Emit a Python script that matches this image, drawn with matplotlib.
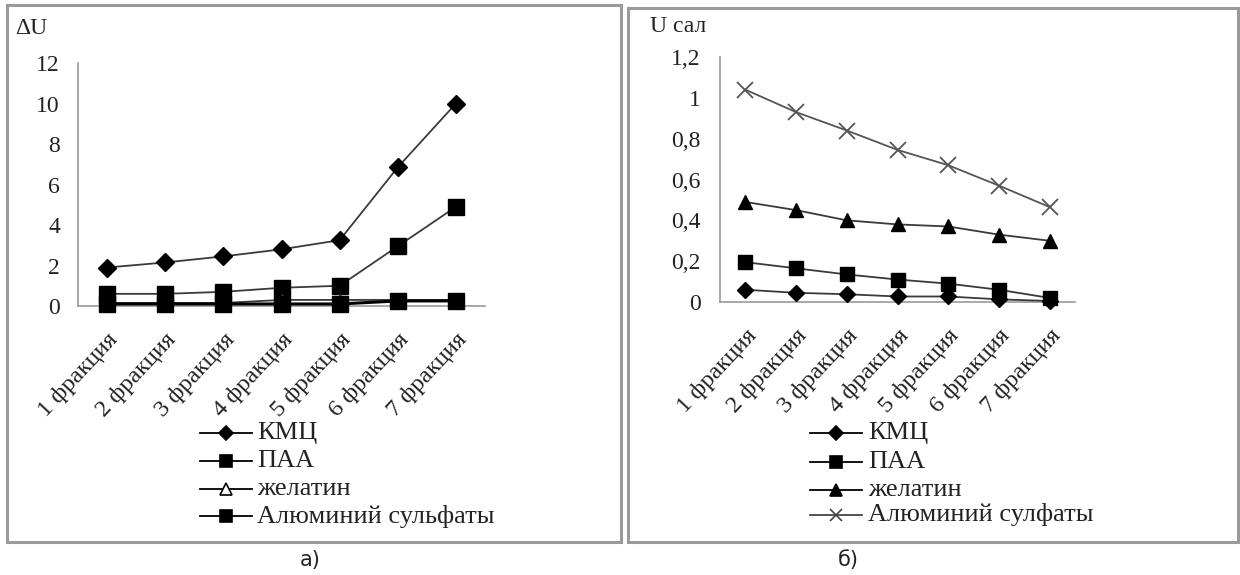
import matplotlib
matplotlib.use("Agg")
import matplotlib.pyplot as plt
from matplotlib.patches import Rectangle
from matplotlib.ticker import FixedLocator, FuncFormatter

plt.rcParams['font.family'] = ['Liberation Serif', 'DejaVu Serif']

categories = [f"{i} фракция" for i in range(1, 8)]

# Panel a) — ΔU
du_kmc = [1.9, 2.15, 2.45, 2.8, 3.25, 6.85, 10.0]
du_paa = [0.6, 0.6, 0.7, 0.9, 1.0, 2.95, 4.9]
du_gel = [0.15, 0.15, 0.15, 0.3, 0.3, 0.3, 0.3]
du_al = [0.1, 0.1, 0.1, 0.1, 0.1, 0.25, 0.25]

# Panel б) — U сал
u_kmc = [0.06, 0.045, 0.038, 0.027, 0.027, 0.013, 0.005]
u_paa = [0.195, 0.165, 0.135, 0.11, 0.09, 0.06, 0.02]
u_gel = [0.49, 0.45, 0.40, 0.38, 0.37, 0.33, 0.30]
u_al = [1.04, 0.93, 0.84, 0.745, 0.67, 0.57, 0.465]

names_left = ["КМЦ", "ПАА", "желатин", "Алюминий сульфаты"]
names_right = ["КМЦ", "ПАА", "желатин", "Алюминий сулфаты"]
left_ticks = [0, 2, 4, 6, 8, 10, 12]
right_ticks = [0, 0.2, 0.4, 0.6, 0.8, 1.0, 1.2]

W, H = 1240, 575
fig = plt.figure(figsize=(W / 100, H / 100), dpi=100)


def box(x0, y0, x1, y1):
    return [x0 / W, 1 - y1 / H, (x1 - x0) / W, (y1 - y0) / H]


# panel frames
for (x0, y0, x1, y1) in [(7, 5, 621, 542), (628, 8, 1238, 542)]:
    fig.patches.append(Rectangle((x0 / W, 1 - y1 / H), (x1 - x0) / W, (y1 - y0) / H,
                                 transform=fig.transFigure, fill=False,
                                 edgecolor="#9a9a9a", linewidth=2.2, zorder=0))

axL = fig.add_axes(box(78, 63, 485, 306))
axR = fig.add_axes(box(720, 57, 1075, 302))

x = list(range(len(categories)))
line_kw = dict(color="#3a3a3a", linewidth=1.3)

# Panel a)
axL.plot(x, du_kmc, marker="D", markersize=9, markerfacecolor="black",
         markeredgecolor="black", zorder=3, **line_kw)
axL.plot(x, du_paa, marker="s", markersize=12, markerfacecolor="black",
         markeredgecolor="black", zorder=3, **line_kw)
axL.plot(x, du_gel, marker="^", markersize=9, markerfacecolor="white",
         markeredgecolor="#333333", zorder=3, **line_kw)
axL.plot(x, du_al, marker="s", markersize=12, markerfacecolor="black",
         markeredgecolor="black", color="black", linewidth=2.2, zorder=4)

# Panel б)
axR.plot(x, u_kmc, marker="D", markersize=8, markerfacecolor="black",
         markeredgecolor="black", zorder=4, **line_kw)
axR.plot(x, u_paa, marker="s", markersize=10, markerfacecolor="black",
         markeredgecolor="black", zorder=3, **line_kw)
axR.plot(x, u_gel, marker="^", markersize=10, markerfacecolor="black",
         markeredgecolor="black", zorder=3, **line_kw)
axR.plot(x, u_al, marker="x", markersize=12, markeredgewidth=1.3,
         color="#555555", linewidth=1.3, zorder=3)

comma = FuncFormatter(lambda v, p: (f"{v:g}").replace(".", ","))

for ax, ticks in [(axL, left_ticks), (axR, right_ticks)]:
    ax.set_xlim(-0.5, len(categories) - 0.5)
    ax.set_ylim(ticks[0], ticks[-1])
    ax.yaxis.set_major_locator(FixedLocator(ticks))
    ax.yaxis.set_major_formatter(comma)
    ax.set_xticks(x)
    ax.set_xticklabels(categories, rotation=47, ha="right", rotation_mode="anchor",
                       fontsize=17.5, color="#222222")
    ax.tick_params(axis="y", length=0, labelsize=17, labelcolor="#222222")
    ax.tick_params(axis="x", length=0, pad=17)
    for s in ("top", "right"):
        ax.spines[s].set_visible(False)
    for s in ("left", "bottom"):
        ax.spines[s].set_color("#9a9a9a")
        ax.spines[s].set_linewidth(1.2)
    ax.set_facecolor("none")
    ax.set_clip_on(False)
    for ln in ax.lines:
        ln.set_clip_on(False)

axL.tick_params(axis="y", pad=13)
axR.tick_params(axis="y", pad=14)

fig.text(15 / W, 1 - 28 / H, "ΔU", fontsize=17, va="center", ha="left", color="#222222")
fig.text(650 / W, 1 - 27 / H, "U сал", fontsize=17, va="center", ha="left", color="#222222")


def legend_rows(x_line0, x_line1, x_text, ys, rows):
    for (name, marker, ms, mfc, col), yy in zip(rows, ys):
        fy = 1 - yy / H
        fig.add_artist(plt.Line2D([x_line0 / W, x_line1 / W], [fy, fy],
                                  transform=fig.transFigure, color=col, linewidth=1.3))
        fig.add_artist(plt.Line2D([(x_line0 + x_line1) / 2 / W], [fy],
                                  transform=fig.transFigure, marker=marker, markersize=ms,
                                  markerfacecolor=mfc, markeredgecolor=col,
                                  markeredgewidth=1.2, linestyle="none"))
        fig.text(x_text / W, fy, name, fontsize=19, va="center", ha="left",
                 color="#222222")


legend_rows(200, 252, 257, [433, 461, 489, 516], [
    (names_left[0], "D", 7, "black", "black"),
    (names_left[1], "s", 9, "black", "black"),
    (names_left[2], "^", 8, "white", "black"),
    (names_left[3], "s", 9, "black", "black"),
])
legend_rows(810, 862, 868, [433, 462, 490, 515], [
    (names_right[0], "D", 7, "black", "black"),
    (names_right[1], "s", 9, "black", "black"),
    (names_right[2], "^", 8, "black", "black"),
    (names_right[3], "x", 9, "none", "#444444"),
])

fig.text(310 / W, 1 - 560 / H, "а)", fontsize=15, va="center", ha="center",
         family=["DejaVu Sans"], color="#222222")
fig.text(848 / W, 1 - 560 / H, "б)", fontsize=15, va="center", ha="center",
         family=["DejaVu Sans"], color="#222222")

fig.savefig("out.png", dpi=100, facecolor="white")
